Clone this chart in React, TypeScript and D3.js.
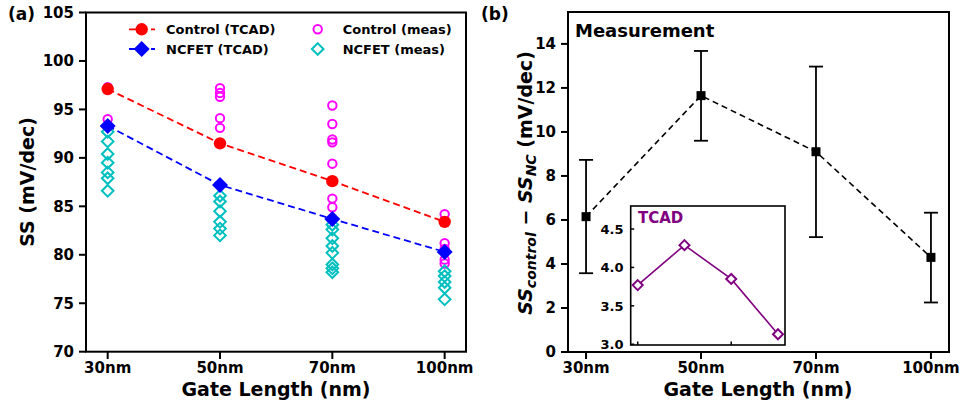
import React from "react";
import * as d3 from "d3";

const categories = ["30nm", "50nm", "70nm", "100nm"];
const controlTCAD = [97.1, 91.5, 87.6, 83.4];
const ncfetTCAD = [93.3, 87.2, 83.7, 80.3];
const controlMeas: number[][] = [
  [97.3, 94.0],
  [97.2, 96.7, 96.3, 94.1, 93.1],
  [95.4, 93.5, 91.9, 91.6, 89.4, 85.8, 84.9],
  [84.2, 81.2, 80.6, 79.5, 79.1],
];
const ncfetMeas: number[][] = [
  [92.7, 91.7, 90.4, 89.5, 88.5, 87.9, 86.6],
  [86.1, 85.5, 84.5, 83.4, 82.7, 82.0],
  [83.1, 82.6, 81.7, 80.9, 80.2, 79.0, 78.6, 78.2],
  [78.3, 77.8, 77.2, 76.6, 75.4],
];
const leftYTicks = [70, 75, 80, 85, 90, 95, 100, 105];

const diffMean = [6.15, 11.65, 9.1, 4.3];
const diffLow = [3.58, 9.6, 5.22, 2.25];
const diffHigh = [8.73, 13.68, 12.97, 6.33];
const rightYTicks = [0, 2, 4, 6, 8, 10, 12, 14];

const insetValues = [3.77, 4.29, 3.85, 3.13];
const insetYTicks = [3.0, 3.5, 4.0, 4.5];
const insetXTicks = [0, 2];

const FONT = "'DejaVu Sans', sans-serif";

export default function App() {
  const xL = d3.scaleLinear().domain([-0.193, 3.19]).range([86, 466]);
  const yL = d3.scaleLinear().domain([70, 105]).range([351.7, 12.5]);
  const xR = d3.scaleLinear().domain([-0.157, 3.157]).range([568, 949]);
  const yR = d3.scaleLinear().domain([0, 15.45]).range([352, 12]);
  const xI = d3.scaleLinear().domain([-0.15, 3.15]).range([630.7, 785]);
  const yI = d3.scaleLinear().domain([2.99, 4.8]).range([345, 206]);

  const idx = categories.map((_, i) => i);
  const lineL = d3
    .line<number>()
    .x((_, i) => xL(i))
    .y((d) => yL(d));
  const lineR = d3
    .line<number>()
    .x((_, i) => xR(i))
    .y((d) => yR(d));
  const lineI = d3
    .line<number>()
    .x((_, i) => xI(i))
    .y((d) => yI(d));

  const diamond = (cx: number, cy: number, r: number) =>
    `M${cx},${cy - r}L${cx + r},${cy}L${cx},${cy + r}L${cx - r},${cy}Z`;

  return (
    <svg
      width={964}
      height={405}
      style={{ position: "absolute", left: 0, top: 0, background: "#fff" }}
      fontFamily={FONT}
      fontWeight="bold"
    >
      <rect width={964} height={405} fill="#fff" />

      {/* ===== LEFT PANEL ===== */}
      <text x={8} y={20} fontSize={17}>
        (a)
      </text>
      {leftYTicks.map((t) => (
        <g key={"ly" + t}>
          <line x1={79} x2={86} y1={yL(t)} y2={yL(t)} stroke="#000" strokeWidth={2} />
          <text x={74} y={yL(t)} dy="0.36em" textAnchor="end" fontSize={15}>
            {t}
          </text>
        </g>
      ))}
      {idx.map((i) => (
        <g key={"lx" + i}>
          <line x1={xL(i)} x2={xL(i)} y1={352} y2={359} stroke="#000" strokeWidth={2} />
          <text x={xL(i)} y={373} textAnchor="middle" fontSize={15}>
            {categories[i]}
          </text>
        </g>
      ))}
      <text x={276} y={396} textAnchor="middle" fontSize={19}>
        Gate Length (nm)
      </text>
      <text transform="translate(27,182) rotate(-90)" dy="0.35em" textAnchor="middle" fontSize={19}>
        SS (mV/dec)
      </text>

      <path d={lineL(controlTCAD) || ""} fill="none" stroke="#ff0000" strokeWidth={1.8} strokeDasharray="7,4" />
      <path d={lineL(ncfetTCAD) || ""} fill="none" stroke="#0000ff" strokeWidth={1.8} strokeDasharray="7,4" />

      {controlMeas.map((arr, i) =>
        arr.map((v, j) => (
          <circle key={`cm${i}-${j}`} cx={xL(i)} cy={yL(v)} r={4.2} fill="none" stroke="#ff00ff" strokeWidth={2} />
        ))
      )}
      {ncfetMeas.map((arr, i) =>
        arr.map((v, j) => (
          <path key={`nm${i}-${j}`} d={diamond(xL(i), yL(v), 5.8)} fill="none" stroke="#00bfbf" strokeWidth={2} />
        ))
      )}
      {controlTCAD.map((v, i) => (
        <circle key={"ct" + i} cx={xL(i)} cy={yL(v)} r={6.2} fill="#ff0000" />
      ))}
      {ncfetTCAD.map((v, i) => (
        <path key={"nt" + i} d={diamond(xL(i), yL(v), 8)} fill="#0000ff" />
      ))}

      {/* Legend */}
      <line x1={129} x2={155} y1={29.3} y2={29.3} stroke="#ff0000" strokeWidth={1.8} strokeDasharray="7,4" />
      <circle cx={141.7} cy={29.3} r={6.2} fill="#ff0000" />
      <text x={166} y={29.3} dy="0.36em" fontSize={13}>
        Control (TCAD)
      </text>
      <line x1={129} x2={155} y1={49} y2={49} stroke="#0000ff" strokeWidth={1.8} strokeDasharray="7,4" />
      <path d={diamond(141.7, 49, 8)} fill="#0000ff" />
      <text x={166} y={49} dy="0.36em" fontSize={13}>
        NCFET (TCAD)
      </text>
      <circle cx={317.7} cy={29.3} r={4.2} fill="none" stroke="#ff00ff" strokeWidth={2} />
      <text x={342.7} y={29.3} dy="0.36em" fontSize={13}>
        Control (meas)
      </text>
      <path d={diamond(317.7, 49, 5.8)} fill="none" stroke="#00bfbf" strokeWidth={2} />
      <text x={342.7} y={49} dy="0.36em" fontSize={13}>
        NCFET (meas)
      </text>

      <rect x={86} y={12.5} width={380} height={339.2} fill="none" stroke="#000" strokeWidth={2} />

      {/* ===== RIGHT PANEL ===== */}
      <text x={481} y={20} fontSize={17}>
        (b)
      </text>
      {rightYTicks.map((t) => (
        <g key={"ry" + t}>
          <line x1={561} x2={568} y1={yR(t)} y2={yR(t)} stroke="#000" strokeWidth={2} />
          <text x={556} y={yR(t)} dy="0.36em" textAnchor="end" fontSize={15}>
            {t}
          </text>
        </g>
      ))}
      {idx.map((i) => (
        <g key={"rx" + i}>
          <line x1={xR(i)} x2={xR(i)} y1={352} y2={359} stroke="#000" strokeWidth={2} />
          <text x={xR(i)} y={373} textAnchor="middle" fontSize={15}>
            {categories[i]}
          </text>
        </g>
      ))}
      <text x={758} y={396} textAnchor="middle" fontSize={19}>
        Gate Length (nm)
      </text>
      <text transform="translate(525,183) rotate(-90)" dy="0.35em" textAnchor="middle" fontSize={19}>
        <tspan fontStyle="italic">SS</tspan>
        <tspan fontSize={14} fontStyle="italic" dy="4">
          control
        </tspan>
        <tspan dy="-4"> − </tspan>
        <tspan fontStyle="italic">SS</tspan>
        <tspan fontSize={14} fontStyle="italic" dy="4">
          NC
        </tspan>
        <tspan dy="-4"> (mV/dec)</tspan>
      </text>
      <text x={575} y={37} fontSize={18}>
        Measurement
      </text>

      {idx.map((i) => (
        <g key={"eb" + i} stroke="#000" strokeWidth={1.8}>
          <line x1={xR(i)} x2={xR(i)} y1={yR(diffLow[i])} y2={yR(diffHigh[i])} />
          <line x1={xR(i) - 7} x2={xR(i) + 7} y1={yR(diffLow[i])} y2={yR(diffLow[i])} />
          <line x1={xR(i) - 7} x2={xR(i) + 7} y1={yR(diffHigh[i])} y2={yR(diffHigh[i])} />
        </g>
      ))}
      <path d={lineR(diffMean) || ""} fill="none" stroke="#000" strokeWidth={1.6} strokeDasharray="6,4" />
      {diffMean.map((v, i) => (
        <rect key={"sq" + i} x={xR(i) - 4.5} y={yR(v) - 4.5} width={9} height={9} fill="#000" />
      ))}

      {/* Inset */}
      <rect x={630.7} y={206} width={154.3} height={139} fill="#fff" stroke="#000" strokeWidth={1.6} />
      {insetYTicks.map((t) => (
        <g key={"iy" + t}>
          <line x1={630.7} x2={634.2} y1={yI(t)} y2={yI(t)} stroke="#000" strokeWidth={1.5} />
          <text x={623.5} y={yI(t)} dy="0.36em" textAnchor="end" fontSize={13}>
            {t.toFixed(1)}
          </text>
        </g>
      ))}
      {insetXTicks.map((t) => (
        <line key={"ix" + t} x1={xI(t)} x2={xI(t)} y1={345} y2={341.5} stroke="#000" strokeWidth={1.5} />
      ))}
      <path d={lineI(insetValues) || ""} fill="none" stroke="#800080" strokeWidth={1.6} />
      {insetValues.map((v, i) => (
        <path key={"iv" + i} d={diamond(xI(i), yI(v), 5)} fill="#fff" stroke="#800080" strokeWidth={2} />
      ))}
      <text x={638} y={222.5} fontSize={15} fill="#800080">
        TCAD
      </text>

      <rect x={568} y={12} width={381} height={340} fill="none" stroke="#000" strokeWidth={2} />
    </svg>
  );
}
